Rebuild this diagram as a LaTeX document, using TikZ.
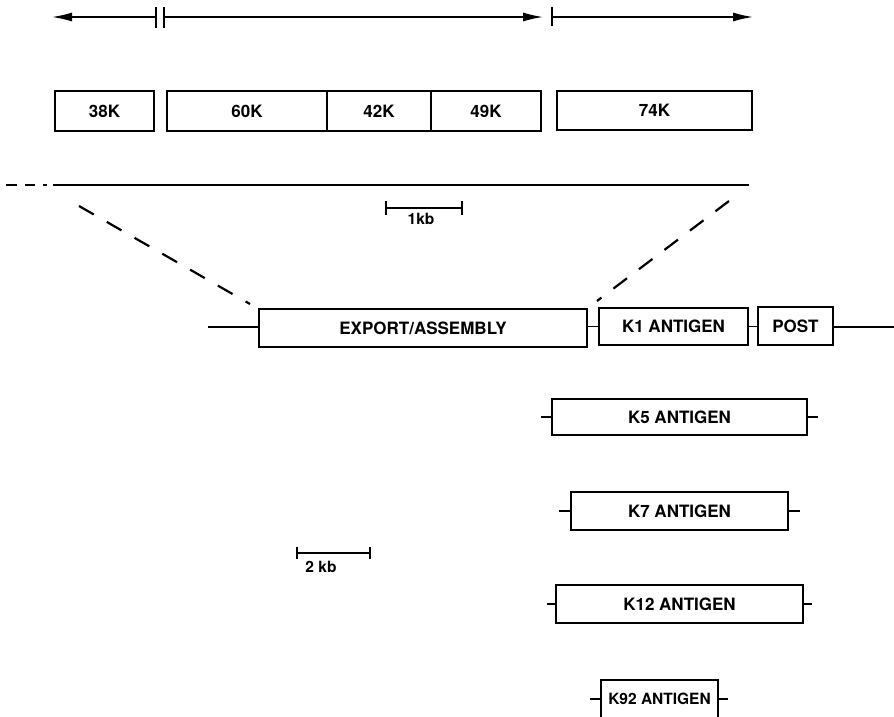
\documentclass[tikz,border=0pt]{standalone}
\usepackage{fontspec}
\setmainfont{TeX Gyre Heros}
\usetikzlibrary{arrows.meta}
\begin{document}
\begin{tikzpicture}[x=1pt,y=-1pt,
  gbox/.style={draw, line width=1.6pt, inner sep=0pt, font=\fontsize{17}{20}\selectfont\bfseries},
  ln/.style={line width=1.5pt},
  thick line/.style={line width=2pt},
  arr/.style={line width=1.5pt, -{Latex[length=20pt,width=9pt]}},
  dsh/.style={line width=2.2pt, dash pattern=on 17pt off 15pt},
  lbl/.style={inner sep=0pt, font=\fontsize{15.5}{18}\selectfont\bfseries}]
\useasboundingbox (0,0) rectangle (894,717);
% top arrows
\coordinate (a1) at (52,17); \coordinate (b1) at (156,17);
\coordinate (b2) at (164,17); \coordinate (a2) at (543,17);
\coordinate (b3) at (552,17); \coordinate (a3) at (753,17);
\draw[arr] (b1) -- (a1);
\draw[arr] (b2) -- (a2);
\draw[arr] (b3) -- (a3);
\draw[line width=2pt] ([yshift=-11pt]b1) -- ([yshift=10pt]b1);
\draw[line width=2pt] ([yshift=-11pt]b2) -- ([yshift=10pt]b2);
\draw[line width=2pt] ([yshift=-9pt]b3) -- ([yshift=10pt]b3);
% gene boxes
\node[gbox, minimum width=99pt, minimum height=40pt] (b38) at (104.5,111) {38K};
\node[gbox, minimum width=160pt, minimum height=40pt] (b60) at (247,111) {60K};
\node[gbox, minimum width=104pt, minimum height=40pt] (b42) at (379,111) {42K};
\node[gbox, minimum width=110pt, minimum height=40pt] (b49) at (486,111) {49K};
\node[gbox, minimum width=195pt, minimum height=39pt] (b74) at (654.5,110.5) {74K};
% map line
\coordinate (m0) at (53,185); \coordinate (m1) at (749,185);
\draw[thick line] (6,185) -- (17,185);
\draw[thick line] (25,185) -- (35,185);
\draw[thick line] (43,185) -- (47,185);
\draw[thick line] (m0) -- (m1);
% 1 kb
\coordinate (s1) at (386,208); \coordinate (s2) at (462,208);
\draw[ln] (s1) -- (s2);
\draw[ln] ([yshift=-7pt]s1) -- ([yshift=7pt]s1);
\draw[ln] ([yshift=-7pt]s2) -- ([yshift=7pt]s2);
\node[lbl] (t1) at (421,219) {1kb};
% dashed expansion lines
\coordinate (d1) at (79,206); \coordinate (d2) at (250,304);
\coordinate (d3) at (729,201); \coordinate (d4) at (597,301);
\draw[dsh] (d1) -- (d2);
\draw[dsh] (d3) -- (d4);
% K1 row
\node[gbox, minimum width=328pt, minimum height=38pt] (exp) at (423,328) {EXPORT/ASSEMBLY};
\node[gbox, minimum width=149pt, minimum height=37pt] (k1) at (673.5,326.5) {K1 ANTIGEN};
\node[gbox, minimum width=75pt, minimum height=38pt] (post) at (795.5,326) {POST};
\coordinate (l0) at (208,327); \coordinate (r0) at (894,327);
\draw[ln] (l0) -- (l0 -| exp.west);
\draw[ln] (k1.west) -- (k1.west -| exp.east);
\draw[ln] (k1.east) -- (k1.east -| post.west);
\draw[ln] (r0 -| post.east) -- (r0);
% other antigens
\node[gbox, minimum width=255pt, minimum height=36pt] (k5) at (679.5,417) {K5 ANTIGEN};
\coordinate (k5l) at (541,417); \coordinate (k5r) at (818,417);
\draw[ln] (k5l) -- (k5.west); \draw[ln] (k5.east) -- (k5r);
\node[gbox, minimum width=217pt, minimum height=38pt] (k7) at (679.5,511) {K7 ANTIGEN};
\coordinate (k7l) at (559,511); \coordinate (k7r) at (800,511);
\draw[ln] (k7l) -- (k7.west); \draw[ln] (k7.east) -- (k7r);
\node[gbox, minimum width=247pt, minimum height=38pt] (k12) at (679.5,604) {K12 ANTIGEN};
\coordinate (k12l) at (547,604); \coordinate (k12r) at (812,604);
\draw[ln] (k12l) -- (k12.west); \draw[ln] (k12.east) -- (k12r);
\node[gbox, minimum width=117pt, minimum height=38pt, font=\fontsize{15.5}{18}\selectfont\bfseries] (k92) at (659.5,699) {K92 ANTIGEN};
\coordinate (k92l) at (590,699); \coordinate (k92r) at (728,699);
\draw[ln] (k92l) -- (k92.west); \draw[ln] (k92.east) -- (k92r);
% 2 kb
\coordinate (s3) at (297,553); \coordinate (s4) at (370,553);
\draw[ln] (s3) -- (s4);
\draw[ln] ([yshift=-6pt]s3) -- ([yshift=6pt]s3);
\draw[ln] ([yshift=-6pt]s4) -- ([yshift=6pt]s4);
\node[lbl] (t2) at (321,567) {2 kb};
\end{tikzpicture}
\end{document}
